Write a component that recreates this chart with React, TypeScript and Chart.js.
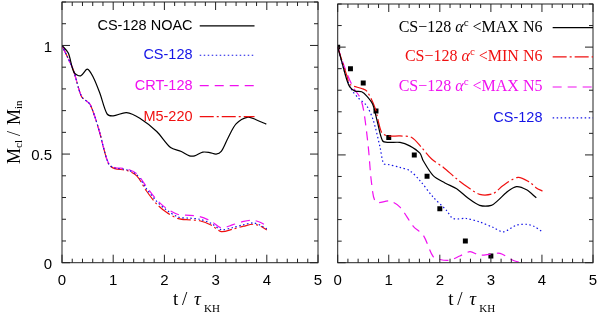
import React, { useEffect, useRef } from 'react';
import { Chart, registerables } from 'chart.js';
Chart.register(...registerables);

// ---------- Left panel data ----------
const NOAC_X = [0, 0.123, 0.234, 0.364, 0.494, 0.61, 0.74, 0.88, 1.0, 1.26, 1.52, 1.85, 2.12, 2.33, 2.49, 2.59, 2.75, 2.885, 3.01, 3.11, 3.24, 3.4, 3.63, 3.79, 3.99];
const NOAC_Y = [1.0, 0.965, 0.876, 0.86, 0.891, 0.854, 0.78, 0.685, 0.676, 0.691, 0.665, 0.604, 0.53, 0.512, 0.492, 0.492, 0.509, 0.507, 0.5, 0.512, 0.573, 0.639, 0.67, 0.658, 0.638];

const LEFT_X = [0, 0.1, 0.22, 0.38, 0.49, 0.55, 0.64, 0.74, 0.84, 0.92, 1.03, 1.26, 1.46, 1.65, 1.85, 2.04, 2.27, 2.5, 2.69, 2.92, 3.11, 3.34, 3.55, 3.73, 3.88, 4.0];
const CS_L_Y = [1.0, 0.95, 0.888, 0.765, 0.742, 0.728, 0.673, 0.596, 0.504, 0.452, 0.436, 0.428, 0.405, 0.34, 0.282, 0.243, 0.21, 0.205, 0.2, 0.18, 0.152, 0.162, 0.175, 0.183, 0.172, 0.155];
const CRT_Y = [1.0, 0.95, 0.888, 0.765, 0.742, 0.728, 0.673, 0.596, 0.504, 0.455, 0.438, 0.432, 0.41, 0.35, 0.29, 0.25, 0.222, 0.218, 0.212, 0.19, 0.16, 0.175, 0.19, 0.195, 0.185, 0.168];
const M5_Y = [1.0, 0.95, 0.888, 0.765, 0.742, 0.728, 0.673, 0.596, 0.504, 0.45, 0.433, 0.425, 0.4, 0.33, 0.27, 0.232, 0.203, 0.197, 0.193, 0.172, 0.143, 0.155, 0.168, 0.177, 0.168, 0.15];

const LEFT_LABELS = ['CS-128 NOAC', 'CS-128', 'CRT-128', 'M5-220'];

// ---------- Right panel data ----------
const MAXN6_X = [0, 0.078, 0.176, 0.24, 0.34, 0.47, 0.57, 0.685, 0.78, 0.88, 0.99, 1.22, 1.41, 1.61, 1.675, 1.87, 2.1, 2.33, 2.55, 2.78, 3.01, 3.14, 3.31, 3.5, 3.7, 3.89];
const MAXN6_Y = [1.0, 0.934, 0.85, 0.814, 0.796, 0.793, 0.773, 0.735, 0.65, 0.565, 0.558, 0.558, 0.542, 0.508, 0.473, 0.404, 0.37, 0.343, 0.3, 0.266, 0.266, 0.289, 0.327, 0.353, 0.338, 0.301];

const MINN6_X = [0, 0.08, 0.176, 0.24, 0.47, 0.57, 0.73, 0.86, 0.99, 1.22, 1.45, 1.64, 1.84, 2.07, 2.33, 2.55, 2.78, 3.04, 3.24, 3.53, 3.76, 3.89, 4.01];
const MINN6_Y = [1.0, 0.94, 0.87, 0.827, 0.808, 0.796, 0.719, 0.604, 0.588, 0.588, 0.581, 0.535, 0.481, 0.442, 0.389, 0.35, 0.317, 0.32, 0.358, 0.396, 0.373, 0.347, 0.332];

const MAXN5_X = [0, 0.176, 0.31, 0.44, 0.51, 0.6, 0.665, 0.75, 1.02, 1.22, 1.48, 1.675, 1.87, 2.0, 2.2, 2.39, 2.59, 2.78, 3.0, 3.18, 3.44, 3.6, 3.8, 4.0];
const MAXN5_Y = [1.0, 0.88, 0.811, 0.765, 0.704, 0.535, 0.366, 0.281, 0.286, 0.258, 0.169, 0.128, 0.028, 0.015, 0.012, 0.031, 0.051, 0.035, 0.04, 0.043, 0.01, 0.0, -0.005, -0.01];

const CS_R_X = [0, 0.143, 0.27, 0.4, 0.57, 0.7, 0.83, 0.9, 1.0, 1.22, 1.41, 1.61, 1.87, 2.13, 2.26, 2.52, 2.78, 3.05, 3.24, 3.5, 3.7, 3.85, 4.01];
const CS_R_Y = [1.0, 0.88, 0.803, 0.765, 0.727, 0.658, 0.535, 0.46, 0.455, 0.442, 0.427, 0.381, 0.304, 0.243, 0.205, 0.205, 0.189, 0.163, 0.143, 0.174, 0.178, 0.168, 0.143];

const SQ_X = [0, 0.25, 0.5, 0.75, 1.0, 1.5, 1.75, 2.0, 2.5, 3.0];
const SQ_Y = [1.0, 0.9, 0.834, 0.704, 0.581, 0.5, 0.401, 0.25, 0.101, 0.031];

const RIGHT_LABELS = ['CS\u2212128 \u03b1^c <MAX N6', 'CS\u2212128 \u03b1^c <MIN N6', 'CS\u2212128 \u03b1^c <MAX N5', 'CS-128'];

// ---------- Axes ----------
const X_TICKS = [0, 1, 2, 3, 4, 5];
const Y_TICKS = [0, 0.5, 1];
const X_MIN = 0, X_MAX = 5, Y_MIN = 0, Y_MAX = 1.2;

const BLACK = '#000000';
const BLUE = '#1414e6';
const MAGENTA = '#f010f0';
const RED = '#f01010';

const pts = (xs: number[], ys: number[]) => xs.map((x, i) => ({ x, y: ys[i] }));

const SANS = '"Liberation Sans", Arial, Helvetica, sans-serif';
const SERIF = '"Liberation Serif", "Times New Roman", serif';

function drawRich(ctx: CanvasRenderingContext2D, text: string, xRight: number, yMid: number, serif: boolean) {
  const base = serif ? `16px ${SERIF}` : `14.5px ${SANS}`;
  const segs: { t: string; font: string; dy: number }[] = [];
  let buf = '';
  for (let i = 0; i < text.length; i++) {
    const c = text[i];
    if (c === '^') {
      if (buf) segs.push({ t: buf, font: base, dy: 0 });
      buf = '';
      segs.push({ t: text[i + 1], font: `11px ${SERIF}`, dy: -5 });
      i++;
    } else if (c === '\u03b1') {
      if (buf) segs.push({ t: buf, font: base, dy: 0 });
      buf = '';
      segs.push({ t: c, font: `italic 16px ${SERIF}`, dy: 0 });
    } else buf += c;
  }
  if (buf) segs.push({ t: buf, font: base, dy: 0 });
  let total = 0;
  const ws = segs.map((s) => {
    ctx.font = s.font;
    const w = ctx.measureText(s.t).width;
    total += w;
    return w;
  });
  let cx = xRight - total;
  ctx.textAlign = 'left';
  ctx.textBaseline = 'middle';
  segs.forEach((s, i) => {
    ctx.font = s.font;
    ctx.fillText(s.t, cx, yMid + s.dy);
    cx += ws[i];
  });
}

const framePlugin = {
  id: 'frame',
  afterDatasetsDraw(chart: any, _args: any, opts: any) {
    const { ctx, chartArea: a, scales } = chart;
    const xs = scales.x, ys = scales.y;
    ctx.save();
    ctx.strokeStyle = '#222';
    ctx.lineWidth = 1;
    ctx.setLineDash([]);
    ctx.strokeRect(a.left, a.top, a.right - a.left, a.bottom - a.top);
    ctx.beginPath();
    for (let k = 0; k <= 25; k++) {
      const v = k * 0.2;
      const px = xs.getPixelForValue(v);
      const len = k % 5 === 0 ? 8 : 4;
      ctx.moveTo(px, a.bottom); ctx.lineTo(px, a.bottom - len);
      ctx.moveTo(px, a.top); ctx.lineTo(px, a.top + len);
    }
    for (let k = 0; k <= 12; k++) {
      const v = k * 0.1;
      const py = ys.getPixelForValue(v);
      const len = k % 5 === 0 ? 8 : 4;
      ctx.moveTo(a.left, py); ctx.lineTo(a.left + len, py);
      ctx.moveTo(a.right, py); ctx.lineTo(a.right - len, py);
    }
    ctx.stroke();

    // legend
    const lg = opts.legend;
    if (lg) {
      const tx = xs.getPixelForValue(lg.textX);
      const l0 = xs.getPixelForValue(lg.lineX0);
      const l1 = xs.getPixelForValue(lg.lineX1);
      chart.data.datasets.forEach((ds: any, i: number) => {
        if (!ds.label) return;
        const py = ys.getPixelForValue(lg.rowsY[i]);
        ctx.fillStyle = ds.borderColor;
        drawRich(ctx, ds.label, tx, py, ds.label.indexOf('\u03b1') >= 0);
        ctx.strokeStyle = ds.borderColor;
        ctx.lineWidth = ds.borderWidth;
        ctx.setLineDash(ds.borderDash || []);
        ctx.beginPath();
        ctx.moveTo(l0, py);
        ctx.lineTo(l1, py);
        ctx.stroke();
      });
      ctx.setLineDash([]);
    }

    // x title
    ctx.fillStyle = '#000';
    ctx.textBaseline = 'alphabetic';
    ctx.textAlign = 'left';
    const cx = (a.left + a.right) / 2 + 4;
    const by = 305;
    ctx.font = `19px ${SERIF}`;
    ctx.fillText('t', cx - 21, by);
    ctx.fillText('/', cx - 12, by);
    ctx.font = `italic 19px ${SERIF}`;
    ctx.fillText('\u03c4', cx, by);
    ctx.font = `11px ${SERIF}`;
    ctx.fillText('KH', cx + 10, by + 7);

    if (opts.yTitle) {
      ctx.save();
      ctx.translate(20, 164);
      ctx.rotate(-Math.PI / 2);
      ctx.font = `18px ${SERIF}`;
      ctx.fillText('M', 0, 0);
      ctx.font = `11px ${SERIF}`;
      ctx.fillText('cl', 16, 2);
      ctx.font = `18px ${SERIF}`;
      ctx.fillText('/', 28, 0);
      ctx.fillText('M', 39, 0);
      ctx.font = `11px ${SERIF}`;
      ctx.fillText('in', 55, 2);
      ctx.restore();
    }
    ctx.restore();
  },
};

function makeOptions(yLabels: boolean, yWidth: number, padRight: number, legend: any) {
  return {
    responsive: false,
    animation: false as const,
    layout: { padding: { top: 2, right: padRight, left: 0, bottom: 0 } },
    plugins: {
      legend: { display: false },
      tooltip: { enabled: false },
      frame: { legend, yTitle: yLabels },
    },
    elements: { point: { radius: 0 }, line: { tension: 0.3 } },
    scales: {
      x: {
        type: 'linear' as const,
        min: X_MIN,
        max: X_MAX,
        grid: { display: false, drawTicks: false },
        border: { display: false },
        afterBuildTicks: (s: any) => { s.ticks = X_TICKS.map((v) => ({ value: v })); },
        afterFit: (s: any) => { s.height = 53.3; s.paddingLeft = 0; s.paddingRight = 0; },
        ticks: {
          autoSkip: false,
          maxRotation: 0,
          padding: 9,
          color: '#000',
          font: { family: SANS, size: 15 },
          callback: (v: any) => String(v),
        },
      },
      y: {
        type: 'linear' as const,
        min: Y_MIN,
        max: Y_MAX,
        grid: { display: false, drawTicks: false },
        border: { display: false },
        afterBuildTicks: (s: any) => { s.ticks = Y_TICKS.map((v) => ({ value: v })); },
        afterFit: (s: any) => { s.width = yWidth; s.paddingTop = 0; s.paddingBottom = 0; },
        ticks: {
          display: yLabels,
          padding: 10,
          labelOffset: 2,
          color: '#000',
          font: { family: SANS, size: 15 },
          callback: (v: any) => String(v),
        },
      },
    },
  };
}

const LEGEND_ROWS = [1.09, 0.955, 0.815, 0.672];

export default function App() {
  const leftRef = useRef<HTMLCanvasElement>(null);
  const rightRef = useRef<HTMLCanvasElement>(null);

  useEffect(() => {
    const left = new Chart(leftRef.current!, {
      type: 'line',
      data: {
        datasets: [
          { label: LEFT_LABELS[0], data: pts(NOAC_X, NOAC_Y), borderColor: BLACK, borderWidth: 1.2, borderDash: [] },
          { label: LEFT_LABELS[1], data: pts(LEFT_X, CS_L_Y), borderColor: BLUE, borderWidth: 1.2, borderDash: [1.5, 2.5] },
          { label: LEFT_LABELS[2], data: pts(LEFT_X, CRT_Y), borderColor: MAGENTA, borderWidth: 1.2, borderDash: [9, 6] },
          { label: LEFT_LABELS[3], data: pts(LEFT_X, M5_Y), borderColor: RED, borderWidth: 1.2, borderDash: [14, 3, 2, 3] },
        ],
      },
      options: makeOptions(true, 62, 10, { textX: 2.55, lineX0: 2.69, lineX1: 3.76, rowsY: LEGEND_ROWS }) as any,
      plugins: [framePlugin],
    });
    const right = new Chart(rightRef.current!, {
      type: 'line',
      data: {
        datasets: [
          { label: RIGHT_LABELS[0], data: pts(MAXN6_X, MAXN6_Y), borderColor: BLACK, borderWidth: 1.2, borderDash: [] },
          { label: RIGHT_LABELS[1], data: pts(MINN6_X, MINN6_Y), borderColor: RED, borderWidth: 1.2, borderDash: [14, 3, 2, 3] },
          { label: RIGHT_LABELS[2], data: pts(MAXN5_X, MAXN5_Y), borderColor: MAGENTA, borderWidth: 1.2, borderDash: [9, 6] },
          { label: RIGHT_LABELS[3], data: pts(CS_R_X, CS_R_Y), borderColor: BLUE, borderWidth: 1.2, borderDash: [1.5, 2.5] },
          {
            label: '',
            data: pts(SQ_X, SQ_Y),
            showLine: false,
            borderColor: BLACK,
            backgroundColor: BLACK,
            pointStyle: 'rect',
            pointRadius: 3.5,
            pointBorderWidth: 0,
          } as any,
        ],
      },
      options: makeOptions(false, 9.7, 7, { textX: 4.01, lineX0: 4.21, lineX1: 5.0, rowsY: LEGEND_ROWS }) as any,
      plugins: [framePlugin],
    });
    return () => {
      left.destroy();
      right.destroy();
    };
  }, []);

  return (
    <div style={{ position: 'fixed', left: 0, top: 0, width: 600, height: 316, background: '#fff' }}>
      <canvas ref={leftRef} width={328} height={316} style={{ position: 'absolute', left: 0, top: 0 }} />
      <canvas ref={rightRef} width={272} height={316} style={{ position: 'absolute', left: 328, top: 0 }} />
    </div>
  );
}
